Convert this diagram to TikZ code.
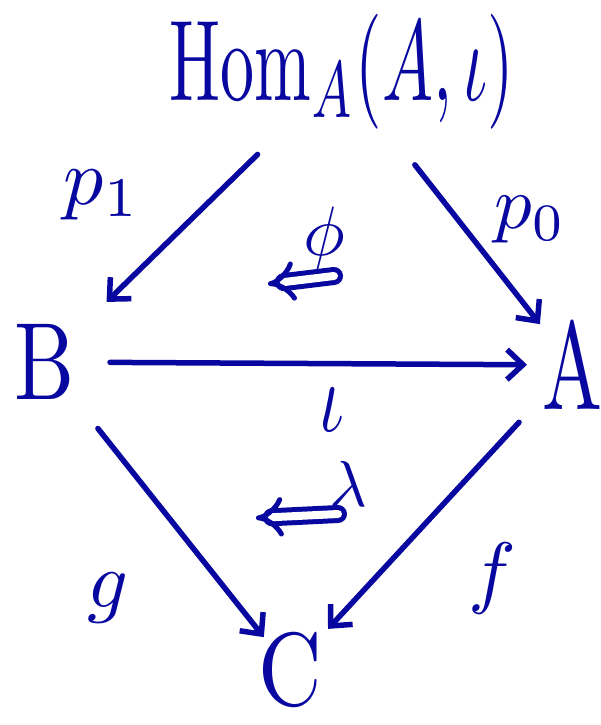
\documentclass[tikz,border=0pt]{standalone}
\usetikzlibrary{arrows.meta}
\definecolor{ink}{RGB}{8,8,160}
\begin{document}
\begin{tikzpicture}[x=1pt,y=-1pt,
  every node/.style={text=ink, inner sep=0pt},
  ar/.style={draw=ink, line width=5.5pt, line cap=round,
    -{Straight Barb[length=16pt,width=30pt,line width=5.5pt]}},
  twocell/.style={draw=ink, double=white, double distance=8pt, line width=5pt,
    line cap=round, -{Implies[length=11pt]}}]
\useasboundingbox (0,0) rectangle (601,725);
% objects
\node (hom) at (342,72) {\scalebox{6.8}[11.5]{$\mathrm{Hom}_{A}(A,\iota)$}};
\node (B) at (45,362) {\scalebox{8.5}[11]{B}};
\node (A) at (572,365) {\scalebox{8}[12.5]{A}};
\node (C) at (290,670) {\scalebox{8.8}[10.4]{C}};
% arrows
\draw[ar, shorten <=118pt, shorten >=86pt] (hom.center) -- (B.center);
\draw[ar, shorten <=118pt, shorten >=52pt] (hom.center) -- (A.center);
\draw[ar, shorten <=65pt, shorten >=45pt] (B.center) -- (A.center);
\draw[ar, shorten <=85pt, shorten >=42pt] (B.center) -- (C.center);
\draw[ar, shorten <=78pt, shorten >=56pt] (A.center) -- (C.center);
% labels
\node (p1) at (102,195) {\scalebox{8}{$p_1$}};
\node (p0) at (530,220) {\scalebox{7.5}{$p_0$}};
\node (iota) at (332,410) {\scalebox{7}[10]{$\iota$}};
\node (g) at (108,598) {\scalebox{8}{$g$}};
\node (f) at (492,578) {\scalebox{8}{$f$}};
% 2-cells
\coordinate (phiS) at (334,276);
\coordinate (phiE) at (268,284);
\draw[twocell] (phiS) -- (phiE);
\node (phi) at (324,238) {\scalebox{7}{$\phi$}};
\coordinate (lamS) at (338,514);
\coordinate (lamE) at (256,518);
\draw[twocell] (lamS) -- (lamE);
\node (lam) at (348,484) {\scalebox{6.5}{$\lambda$}};
\end{tikzpicture}
\end{document}
